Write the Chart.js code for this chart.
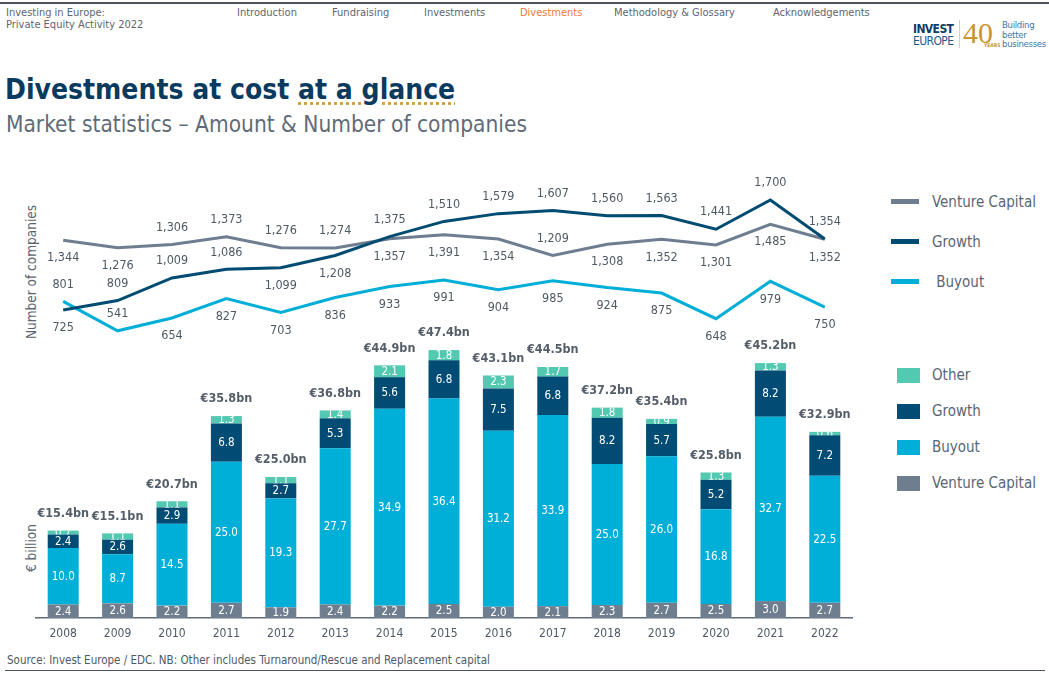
<!DOCTYPE html>
<html>
<head>
<meta charset="utf-8">
<script src="https://cdn.jsdelivr.net/npm/chart.js@4.4.0/dist/chart.umd.min.js"></script>
<style>
  body { margin:0; width:1049px; height:675px; position:relative; background:#fff; overflow:hidden;
    font-family:'DejaVu Sans Condensed','DejaVu Sans',sans-serif; color:#5a6570; }
  .abs { position:absolute; white-space:pre; line-height:1; }
  .nav { top:7px; font-size:11px; color:#5d6670; }
  .rot { transform:translate(-50%,-50%) rotate(-90deg); font-size:13.5px; color:#5a6570; }
  .lg { font-size:15px; color:#5a6573; transform:translateY(-50%); }
  canvas { position:absolute; left:0; }
</style>
</head>
<body>
<div class="abs" style="left:0;top:2px;width:1049px;height:2px;background:#4b525a"></div>
<div class="abs" style="left:6px;top:7px;font-size:11px;color:#5d6670">Investing in Europe:</div>
<div class="abs" style="left:6px;top:19px;font-size:11px;color:#5d6670">Private Equity Activity 2022</div>
<div class="abs nav" style="left:237px">Introduction</div>
<div class="abs nav" style="left:332px">Fundraising</div>
<div class="abs nav" style="left:424px">Investments</div>
<div class="abs nav" style="left:520px;color:#f0783c">Divestments</div>
<div class="abs nav" style="left:614px">Methodology &amp; Glossary</div>
<div class="abs nav" style="left:773px">Acknowledgements</div>

<!-- logo -->
<div class="abs" style="left:913px;top:23px;font-size:12px;font-weight:bold;color:#0d3c66;letter-spacing:-0.6px">INVEST</div>
<div class="abs" style="left:913px;top:35px;font-size:12px;color:#1f5a8a;letter-spacing:-0.6px">EUROPE</div>
<div class="abs" style="left:959px;top:20px;width:1px;height:28px;background:#cfcfcf"></div>
<div class="abs" style="left:963px;top:18px;font-size:30px;color:#c9962e;font-family:'Liberation Serif',serif">40</div>
<div class="abs" style="left:984px;top:43px;font-size:5px;font-weight:bold;color:#c9962e">YEARS</div>
<div class="abs" style="left:1002px;top:20px;font-size:9.5px;color:#3a77a8;letter-spacing:-0.3px">Building</div>
<div class="abs" style="left:1002px;top:29.5px;font-size:9.5px;color:#3a77a8;letter-spacing:-0.3px">better</div>
<div class="abs" style="left:1002px;top:39px;font-size:9.5px;color:#3a77a8;letter-spacing:-0.3px">businesses</div>

<div class="abs" style="left:5px;top:76px;font-size:28px;font-weight:bold;color:#0b3a5f">Divestments at cost <span style="text-decoration:underline dotted #c9a040;text-underline-offset:3px">at a glance</span></div>
<div class="abs" style="left:6px;top:113px;font-size:22.5px;color:#5f6b78">Market statistics – Amount &amp; Number of companies</div>

<div class="abs rot" style="left:32px;top:272px">Number of companies</div>
<div class="abs rot" style="left:32px;top:548px">€ billion</div>

<canvas id="bar_chart" width="870" height="350" style="top:300px"></canvas>
<canvas id="line_chart" width="870" height="200" style="top:160px"></canvas>

<!-- line legend -->
<div class="abs" style="left:891px;top:199px;width:28px;height:5px;background:#6e7e90"></div>
<div class="abs lg" style="left:932px;top:202px">Venture Capital</div>
<div class="abs" style="left:891px;top:239px;width:28px;height:5px;background:#004b72"></div>
<div class="abs lg" style="left:932px;top:242px">Growth</div>
<div class="abs" style="left:891px;top:279px;width:28px;height:5px;background:#00aed8"></div>
<div class="abs lg" style="left:932px;top:282px"> Buyout</div>

<!-- bar legend -->
<div class="abs" style="left:897px;top:368px;width:23px;height:15px;background:#52c9b0"></div>
<div class="abs lg" style="left:932px;top:375px">Other</div>
<div class="abs" style="left:897px;top:404px;width:23px;height:15px;background:#004c75"></div>
<div class="abs lg" style="left:932px;top:411px">Growth</div>
<div class="abs" style="left:897px;top:440px;width:23px;height:15px;background:#00afd7"></div>
<div class="abs lg" style="left:932px;top:447px">Buyout</div>
<div class="abs" style="left:897px;top:476px;width:23px;height:15px;background:#6f7e8f"></div>
<div class="abs lg" style="left:932px;top:483px">Venture Capital</div>

<div class="abs" style="left:7px;top:655px;font-size:11.5px;color:#4d5a66">Source: Invest Europe / EDC. NB: Other includes Turnaround/Rescue and Replacement capital</div>
<div class="abs" style="left:5px;top:670px;width:1040px;height:1px;background:#4b525a"></div>

<script>
var FONT = "'DejaVu Sans Condensed', 'DejaVu Sans', sans-serif";

var years = ['2008', '2009', '2010', '2011', '2012', '2013', '2014', '2015', '2016', '2017', '2018', '2019', '2020', '2021', '2022'];

// amounts, EUR billion
var vc_amount     = [2.4, 2.6, 2.2, 2.7, 1.9, 2.4, 2.2, 2.5, 2.0, 2.1, 2.3, 2.7, 2.5, 3.0, 2.7];
var buyout_amount = [10.0, 8.7, 14.5, 25.0, 19.3, 27.7, 34.9, 36.4, 31.2, 33.9, 25.0, 26.0, 16.8, 32.7, 22.5];
var growth_amount = [2.4, 2.6, 2.9, 6.8, 2.7, 5.3, 5.6, 6.8, 7.5, 6.8, 8.2, 5.7, 5.2, 8.2, 7.2];
var other_amount  = [0.7, 1.1, 1.1, 1.3, 1.1, 1.4, 2.1, 1.8, 2.3, 1.7, 1.8, 0.9, 1.3, 1.3, 0.6];
var total_amount  = [15.4, 15.1, 20.7, 35.8, 25.0, 36.8, 44.9, 47.4, 43.1, 44.5, 37.2, 35.4, 25.8, 45.2, 32.9];

// number of companies
var vc_count     = [1344, 1276, 1306, 1373, 1276, 1274, 1357, 1391, 1354, 1209, 1308, 1352, 1301, 1485, 1352];
var growth_count = [725, 809, 1009, 1086, 1099, 1208, 1375, 1510, 1579, 1607, 1560, 1563, 1441, 1700, 1354];
var buyout_count = [801, 541, 654, 827, 703, 836, 933, 991, 904, 985, 924, 875, 648, 979, 750];

// where each count label sits: a = above the line, b = below
var vc_label_pos     = 'bbaaaabbbabbbbb';
var growth_label_pos = 'baaabbaaaaaaaaa';
var buyout_label_pos = 'aabbbbbbbbbbbbb';

var bar_labels = {
  id: 'bar_labels',
  afterDatasetsDraw: function(chart) {
    var ctx = chart.ctx;
    ctx.save();
    ctx.textAlign = 'center';
    ctx.textBaseline = 'middle';
    ctx.font = '11.5px ' + FONT;
    ctx.fillStyle = '#ffffff';
    chart.data.datasets.forEach(function(ds, i) {
      chart.getDatasetMeta(i).data.forEach(function(bar, j) {
        var top = Math.min(bar.y, bar.base);
        var h = Math.abs(bar.base - bar.y);
        ctx.save();
        ctx.beginPath();
        ctx.rect(bar.x - bar.width / 2, top, bar.width, h);
        ctx.clip();
        ctx.fillText(ds.data[j].toFixed(1), bar.x, top + h / 2 + 0.5);
        ctx.restore();
      });
    });
    ctx.font = 'bold 12.5px ' + FONT;
    ctx.fillStyle = '#555e68';
    var tops = chart.getDatasetMeta(chart.data.datasets.length - 1).data;
    tops.forEach(function(bar, j) {
      ctx.fillText('€' + total_amount[j].toFixed(1) + 'bn', bar.x, bar.y - 17);
    });
    ctx.restore();
  }
};

var line_labels = {
  id: 'line_labels',
  afterDatasetsDraw: function(chart) {
    var ctx = chart.ctx;
    ctx.save();
    ctx.textAlign = 'center';
    ctx.textBaseline = 'middle';
    ctx.font = '12.5px ' + FONT;
    ctx.fillStyle = '#4f5964';
    chart.data.datasets.forEach(function(ds, i) {
      chart.getDatasetMeta(i).data.forEach(function(pt, j) {
        var dy = ds.label_pos[j] == 'a' ? -17 : 18;
        ctx.fillText(ds.data[j].toLocaleString('en-US'), pt.x, pt.y + dy);
      });
    });
    ctx.restore();
  }
};

function bar_set(label, data, color) {
  return { label: label, data: data, backgroundColor: color, borderWidth: 0 };
}

new Chart(document.getElementById('bar_chart').getContext('2d'), {
  type: 'bar',
  data: {
    labels: years,
    datasets: [
      bar_set('Venture Capital', vc_amount, '#6f7e8f'),
      bar_set('Buyout', buyout_amount, '#00afd7'),
      bar_set('Growth', growth_amount, '#004c75'),
      bar_set('Other', other_amount, '#52c9b0')
    ]
  },
  options: {
    responsive: false,
    animation: false,
    devicePixelRatio: 1,
    layout: { padding: { left: 36, right: 18, top: 36, bottom: 0 } },
    datasets: { bar: { categoryPercentage: 1, barPercentage: 0.57 } },
    plugins: { legend: { display: false }, tooltip: { enabled: false } },
    scales: {
      x: {
        stacked: true,
        grid: { display: false, drawTicks: false },
        border: { display: true, color: '#5f6b78', width: 1.5 },
        ticks: { padding: 9, color: '#4d5966', font: { family: FONT, size: 12 } },
        afterFit: function(s) { s.height = 32; }
      },
      y: { stacked: true, display: false, min: 0, max: 50 }
    }
  },
  plugins: [bar_labels]
});

function line_set(label, data, color, pos, order) {
  return { label: label, data: data, borderColor: color, borderWidth: 3, pointRadius: 0,
           tension: 0, fill: false, label_pos: pos, order: order };
}

new Chart(document.getElementById('line_chart').getContext('2d'), {
  type: 'line',
  data: {
    labels: years,
    datasets: [
      line_set('Venture Capital', vc_count, '#6e7e90', vc_label_pos, 2),
      line_set('Growth', growth_count, '#004b72', growth_label_pos, 1),
      line_set('Buyout', buyout_count, '#00aed8', buyout_label_pos, 3)
    ]
  },
  options: {
    responsive: false,
    animation: false,
    devicePixelRatio: 1,
    layout: { padding: { left: 36, right: 18, top: 17.4, bottom: 13.3 } },
    plugins: { legend: { display: false }, tooltip: { enabled: false } },
    scales: {
      x: { display: false, offset: true },
      y: { display: false, min: 400, max: 1900 }
    }
  },
  plugins: [line_labels]
});
</script>
</body>
</html>
